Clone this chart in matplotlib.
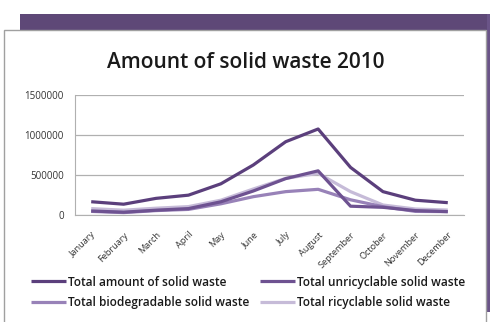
import matplotlib
matplotlib.use("Agg")
import matplotlib.pyplot as plt
from matplotlib.patches import Rectangle

months = ["January", "February", "March", "April", "May", "June", "July",
          "August", "September", "October", "November", "December"]
total = [166000, 135000, 208000, 248000, 390000, 625000, 916000, 1075000, 595000, 292000, 185000, 154000]
unrecyclable = [50000, 35000, 60000, 80000, 165000, 300000, 455000, 552000, 110000, 96000, 55000, 42000]
biodegradable = [45000, 30000, 55000, 70000, 140000, 229000, 292000, 321000, 190000, 104000, 45000, 42000]
recyclable = [80000, 60000, 85000, 105000, 185000, 325000, 458000, 521000, 292000, 125000, 75000, 62000]
yticks = [0, 500000, 1000000, 1500000]
title = "Amount of solid waste 2010"
labels = ["Total amount of solid waste", "Total unricyclable solid waste",
          "Total biodegradable solid waste", "Total ricyclable solid waste"]
colors = ["#5b3f7c", "#6e5291", "#9882b8", "#c6bbd8"]

W, H = 490, 322
fig = plt.figure(figsize=(W / 100, H / 100), dpi=100)
fig.patch.set_facecolor("white")
plt.rcParams['font.family'] = ['Open Sans', 'DejaVu Sans']

def px(x0, y0, x1, y1):
    return (x0 / W, 1 - y1 / H), (x1 - x0) / W, (y1 - y0) / H

# purple header bar
xy, w, h = px(20, 14, 490, 31)
fig.patches.append(Rectangle(xy, w, h, transform=fig.transFigure, facecolor="#5e4877", edgecolor="none", zorder=0))
# right purple strip
xy, w, h = px(486.5, 14, 490, 312)
fig.patches.append(Rectangle(xy, w, h, transform=fig.transFigure, facecolor="#6a5488", edgecolor="none", zorder=0))
# white panel
xy, w, h = px(4, 30, 485.5, 330)
fig.patches.append(Rectangle(xy, w, h, transform=fig.transFigure, facecolor="white", edgecolor="#a0a0a0", linewidth=1.0, zorder=1))

ax = fig.add_axes([75 / W, 1 - 215 / H, (464 - 75) / W, (215 - 95) / H])
ax.set_zorder(2)
ax.patch.set_alpha(0)
x = list(range(len(months)))
series = [total, unrecyclable, biodegradable, recyclable]
order = [3, 2, 1, 0]
handles = {}
for i in order:
    ln, = ax.plot(x, series[i], color=colors[i], lw=2.3, solid_capstyle="butt", zorder=3 + (3 - i))
    handles[i] = ln

ax.set_xlim(-0.5, 11.5)
ax.set_ylim(0, 1500000)
ax.set_yticks(yticks)
ax.set_yticklabels([str(v) for v in yticks], fontsize=7, color="#333333")
ax.set_xticks(x)
ax.set_xticklabels(months, rotation=45, ha="right", rotation_mode="anchor", fontsize=6.6, color="#333333")
ax.tick_params(axis="y", length=0, pad=8)
ax.tick_params(axis="x", length=0, pad=11)
ax.grid(axis="y", color="#b0b0b0", lw=0.9)
ax.set_axisbelow(True)
for s in ["top", "right"]:
    ax.spines[s].set_visible(False)
ax.spines["left"].set_color("#b0b0b0")
ax.spines["bottom"].set_color("#b0b0b0")

fig.text(246 / W, 1 - 62 / H, title, ha="center", va="center", fontsize=15, fontweight="semibold", color="#1a1a1a")

leg = fig.legend([handles[0], handles[2], handles[1], handles[3]],
                 [labels[0], labels[2], labels[1], labels[3]],
                 ncol=2, loc="center", bbox_to_anchor=(248 / W, 1 - 292.5 / H),
                 frameon=False, fontsize=8.6, handlelength=2.9, handletextpad=0.15,
                 columnspacing=0.95, labelspacing=0.65, borderpad=0)
for t in leg.get_texts():
    t.set_fontweight("semibold")
    t.set_color("#1a1a1a")

fig.savefig("out.png", dpi=100)
